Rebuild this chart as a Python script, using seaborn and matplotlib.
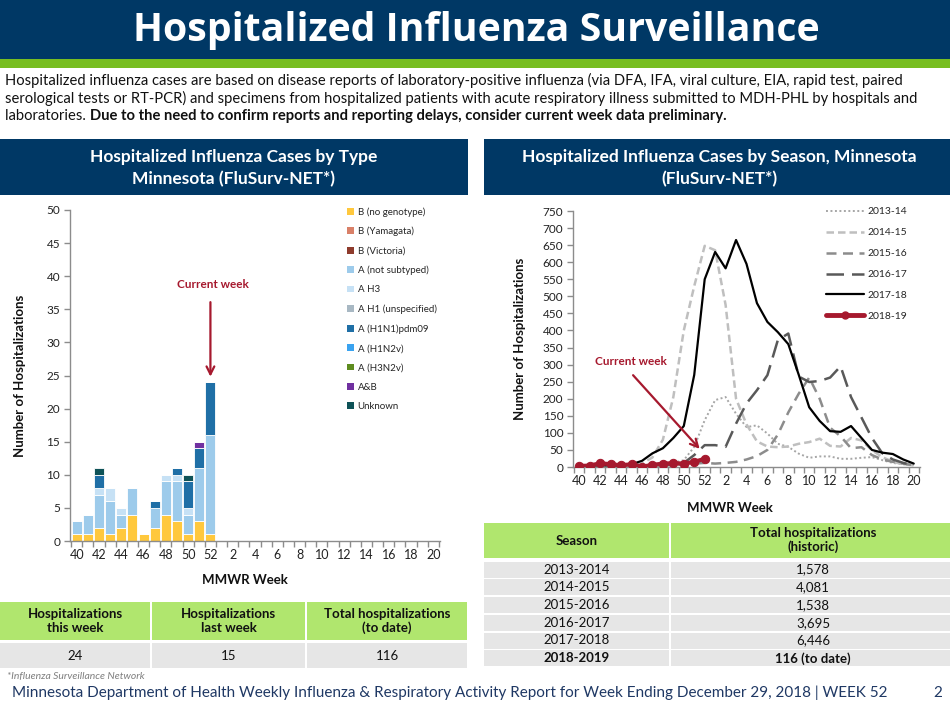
import numpy as np
import pandas as pd
import matplotlib
matplotlib.use("Agg")
import matplotlib.pyplot as plt
from matplotlib.patches import Rectangle, Patch
from matplotlib.lines import Line2D
import seaborn as sns

# ---------------- data ----------------
week_labels = [40, 41, 42, 43, 44, 45, 46, 47, 48, 49, 50, 51, 52,
               1, 2, 3, 4, 5, 6, 7, 8, 9, 10, 11, 12, 13, 14, 15, 16, 17, 18, 19, 20]
bar_weeks = [40, 41, 42, 43, 44, 45, 46, 47, 48, 49, 50, 51, 52]

type_names = ["B (no genotype)", "B (Yamagata)", "B (Victoria)", "A (not subtyped)", "A H3",
              "A H1 (unspecified)", "A (H1N1)pdm09", "A (H1N2v)", "A (H3N2v)", "A&B", "Unknown"]
b_no_genotype = [1, 1, 2, 1, 2, 4, 1, 2, 4, 3, 1, 3, 1]
b_yamagata = [0, 0, 0, 0, 0, 0, 0, 0, 0, 0, 0, 0, 0]
b_victoria = [0, 0, 0, 0, 0, 0, 0, 0, 0, 0, 0, 0, 0]
a_not_subtyped = [2, 3, 5, 5, 2, 4, 0, 3, 5, 6, 3, 8, 15]
a_h3 = [0, 0, 1, 2, 1, 0, 0, 0, 1, 1, 1, 0, 0]
a_h1_unspecified = [0, 0, 0, 0, 0, 0, 0, 0, 0, 0, 0, 0, 0]
a_h1n1pdm09 = [0, 0, 2, 0, 0, 0, 0, 1, 0, 1, 4, 3, 8]
a_h1n2v = [0, 0, 0, 0, 0, 0, 0, 0, 0, 0, 0, 0, 0]
a_h3n2v = [0, 0, 0, 0, 0, 0, 0, 0, 0, 0, 0, 0, 0]
a_and_b = [0, 0, 0, 0, 0, 0, 0, 0, 0, 0, 0, 1, 0]
unknown = [0, 0, 1, 0, 0, 0, 0, 0, 0, 0, 1, 0, 0]
type_values = [b_no_genotype, b_yamagata, b_victoria, a_not_subtyped, a_h3, a_h1_unspecified,
               a_h1n1pdm09, a_h1n2v, a_h3n2v, a_and_b, unknown]
type_colors = ["#FFC83D", "#D98068", "#8E3B2C", "#9DCBEB", "#C6E1F5", "#A8B8C3",
               "#1F6FA6", "#3AA3F0", "#5E8C1F", "#7030A0", "#0E5257"]

season_names = ["2013-14", "2014-15", "2015-16", "2016-17", "2017-18", "2018-19"]
s2013_14 = [5, 5, 5, 5, 5, 5, 5, 5, 8, 12, 20, 59, 137, 196, 205, 156, 117, 122, 98, 68, 59, 39,
            27, 31, 31, 24, 24, 27, 29, 20, 12, 8, 5]
s2014_15 = [5, 5, 5, 5, 5, 5, 10, 28, 80, 205, 400, 530, 648, 635, 475, 200, 125, 75, 60, 58, 60,
            68, 73, 83, 62, 60, 85, 78, 49, 29, 15, 8, 5]
s2015_16 = [5, 5, 5, 5, 5, 5, 5, 5, 5, 5, 8, 10, 12, 10, 12, 15, 22, 32, 50, 95, 160, 215, 262,
            200, 115, 90, 55, 58, 35, 22, 15, 10, 5]
s2016_17 = [5, 5, 5, 5, 5, 5, 5, 5, 5, 8, 12, 35, 64, 64, 59, 127, 186, 225, 269, 372, 391, 265,
            249, 252, 262, 295, 205, 145, 85, 40, 22, 12, 5]
s2017_18 = [5, 5, 5, 5, 5, 8, 18, 40, 55, 85, 120, 270, 550, 630, 582, 665, 595, 480, 425, 395,
            360, 270, 175, 135, 105, 103, 120, 85, 50, 42, 38, 22, 10]
s2018_19 = [3, 4, 11, 8, 5, 8, 1, 6, 10, 11, 10, 15, 24]

summary_headers = ["Hospitalizations\nthis week", "Hospitalizations\nlast week",
                   "Total hospitalizations\n(to date)"]
summary_values = ["24", "15", "116"]

hist_seasons = ["2013-2014", "2014-2015", "2015-2016", "2016-2017", "2017-2018", "2018-2019"]
hist_totals = ["1,578", "4,081", "1,538", "3,695", "6,446", "116 (to date)"]

tick_labels = [40, 42, 44, 46, 48, 50, 52, 2, 4, 6, 8, 10, 12, 14, 16, 18, 20]

# ---------------- setup ----------------
sns.set_theme(style="white")
plt.rcParams["font.family"] = ["Lato", "DejaVu Sans"]

W, H = 950, 708
fig = plt.figure(figsize=(W / 100, H / 100), dpi=100)
fig.patch.set_facecolor("white")

NAVY = "#003865"
GREEN = "#78BE21"
TGREEN = "#B0E66E"
TGRAY = "#E6E6E6"
RED = "#A6192E"


def fx(x):
    return x / W


def fy(y):
    return 1 - y / H


def rect(x0, y0, x1, y1, color):
    fig.add_artist(Rectangle((fx(x0), fy(y1)), (x1 - x0) / W, (y1 - y0) / H,
                             transform=fig.transFigure, facecolor=color, edgecolor="none", zorder=0))


def ftext(x, y, s, **kw):
    kw.setdefault("ha", "center")
    kw.setdefault("va", "center")
    fig.text(fx(x), fy(y), s, **kw)


def add_ax(l, t, r, b):
    return fig.add_axes([fx(l), fy(b), (r - l) / W, (b - t) / H])


# header
rect(0, 0, 950, 59, NAVY)
rect(0, 59, 950, 68, GREEN)
ftext(476, 30, "Hospitalized Influenza Surveillance", color="white", fontsize=28.3,
      fontweight="bold", family=["Open Sans", "DejaVu Sans"])

intro1 = ("Hospitalized influenza cases are based on disease reports of laboratory-positive influenza "
          "(via DFA, IFA, viral culture, EIA, rapid test, paired")
intro2 = ("serological tests or RT-PCR) and specimens from hospitalized patients with acute respiratory "
          "illness submitted to MDH-PHL by hospitals and")
FS_INTRO = 10.6
ftext(5, 80, intro1, ha="left", fontsize=FS_INTRO, color="#111111")
ftext(5, 98, intro2, ha="left", fontsize=FS_INTRO, color="#111111")
t3 = fig.text(fx(5), fy(116), "laboratories. ", ha="left", va="center", fontsize=FS_INTRO,
              color="#111111")
fig.canvas.draw()
bb = t3.get_window_extent()
fig.text(bb.x1 / W, fy(116), "Due to the need to confirm reports and reporting delays, consider "
         "current week data preliminary.", ha="left", va="center", fontsize=FS_INTRO,
         fontweight="bold", color="#111111")

# panel titles
FS_PT = 12.5
rect(0, 139, 468, 195, NAVY)
ftext(234, 157, "Hospitalized Influenza Cases by Type", color="white", fontsize=FS_PT,
      fontweight="bold")
ftext(234, 179, "Minnesota (FluSurv-NET*)", color="white", fontsize=FS_PT, fontweight="bold")
rect(484, 139, 950, 195, NAVY)
ftext(719, 157, "Hospitalized Influenza Cases by Season, Minnesota", color="white", fontsize=FS_PT,
      fontweight="bold")
ftext(719, 179, "(FluSurv-NET*)", color="white", fontsize=FS_PT, fontweight="bold")

# ---------------- left chart ----------------
pos_of = {w: i for i, w in enumerate(week_labels)}
rows = []
for name, vals in zip(type_names, type_values):
    for w, v in zip(bar_weeks, vals):
        rows.append({"pos": pos_of[w], "type": name, "count": v})
df_bar = pd.DataFrame(rows)

axL = add_ax(70, 210, 440, 541)
sns.histplot(data=df_bar, x="pos", weights="count", hue="type", hue_order=type_names[::-1],
             multiple="stack", discrete=True, shrink=0.9, palette=dict(zip(type_names, type_colors)),
             edgecolor="white", linewidth=0.6, alpha=1, legend=False, ax=axL)
axL.set_xlim(-0.6, len(week_labels) - 0.4)
axL.set_ylim(0, 50)
axL.set_yticks(range(0, 51, 5))
tick_pos = [pos_of[w] for w in tick_labels]
axL.set_xticks(tick_pos)
axL.set_xticklabels([str(t) for t in tick_labels])
axL.set_xticks(np.arange(-0.5, len(week_labels), 1), minor=True)

# ---------------- right chart ----------------
axR = add_ax(573, 211, 920, 467)
season_series = [s2013_14, s2014_15, s2015_16, s2016_17, s2017_18]
styles = [
    dict(color="#A6A6A6", lw=1.4, dashes=(1, 1.3)),
    dict(color="#BFBFBF", lw=1.8, dashes=(3, 1.6)),
    dict(color="#8C8C8C", lw=1.8, dashes=(4, 2.6)),
    dict(color="#595959", lw=1.8, dashes=(7, 3.2)),
    dict(color="black", lw=1.6, dashes=None),
]
handles = []
for name, vals, st in zip(season_names[:5], season_series, styles):
    d = pd.DataFrame({"pos": [pos_of[w] for w in week_labels], "val": vals})
    sns.lineplot(data=d, x="pos", y="val", color=st["color"], linewidth=st["lw"], ax=axR)
    ln = axR.lines[-1]
    if st["dashes"] is not None:
        ln.set_dashes(st["dashes"])
    h = Line2D([], [], color=st["color"], lw=st["lw"])
    if st["dashes"] is not None:
        h.set_dashes(st["dashes"])
    handles.append(h)
d19 = pd.DataFrame({"pos": [pos_of[w] for w in bar_weeks], "val": s2018_19})
sns.lineplot(data=d19, x="pos", y="val", color=RED, linewidth=3, marker="o", markersize=6,
             markeredgecolor=RED, ax=axR, zorder=5)
handles.append(Line2D([], [], color=RED, lw=3.5, marker="o", markersize=5))

axR.set_xlim(-0.6, len(week_labels) - 0.4)
axR.set_ylim(0, 750)
axR.set_yticks(range(0, 751, 50))
axR.set_xticks(tick_pos)
axR.set_xticklabels([str(t) for t in tick_labels])
axR.set_xticks(np.arange(-0.5, len(week_labels), 1), minor=True)

fig.legend(handles, season_names, loc="upper left", bbox_to_anchor=(fx(826), fy(207)),
           frameon=False, fontsize=7.5, handlelength=3.6, handletextpad=0.4, labelspacing=1.12,
           borderpad=0, borderaxespad=0)

lhandles = [Patch(facecolor=c, edgecolor="none") for c in type_colors]
fig.legend(lhandles, type_names, loc="upper left", bbox_to_anchor=(fx(347), fy(207)),
           frameon=False, fontsize=7, handlelength=0.7, handleheight=0.7, handletextpad=0.4,
           labelspacing=1.05, borderpad=0, borderaxespad=0)

for ax in [axL, axR]:
    ax.set_xlabel("MMWR Week", fontsize=9.5, fontweight="bold", color="#111111")
    ax.set_ylabel("Number of Hospitalizations", fontsize=9.5, fontweight="bold", color="#111111")
    for s in ["top", "right"]:
        ax.spines[s].set_visible(False)
    for s in ["left", "bottom"]:
        ax.spines[s].set_color("#8C8C8C")
        ax.spines[s].set_linewidth(1)
    ax.tick_params(axis="x", which="major", length=0, labelsize=9, colors="#222222", pad=6)
    ax.tick_params(axis="x", which="minor", length=4, color="#8C8C8C", width=1, bottom=True)
    ax.tick_params(axis="y", which="major", length=4, color="#8C8C8C", width=1, left=True,
                   labelsize=8.5, labelcolor="#222222", pad=3)
    ax.grid(False)
    ax.set_facecolor("none")

axL.yaxis.set_label_coords(-0.12, 0.5)
axL.xaxis.set_label_coords(0.473, -0.10)
axR.yaxis.set_label_coords(-0.135, 0.5)
axR.xaxis.set_label_coords(0.452, -0.137)

# annotations
axL.annotate("", xy=(pos_of[52], 24.4), xytext=(pos_of[52], 36.5),
             arrowprops=dict(arrowstyle="->", color=RED, lw=1.6, mutation_scale=14))
axL.text(pos_of[52] + 0.2, 38.7, "Current week", color=RED, fontsize=8.5, fontweight="bold",
         ha="center", va="center")
axR.annotate("", xy=(11.7, 47), xytext=(4.97, 275),
             arrowprops=dict(arrowstyle="->", color=RED, lw=1.6, mutation_scale=14))
axR.text(4.95, 308, "Current week", color=RED, fontsize=8.5, fontweight="bold",
         ha="center", va="center")

# ---------------- left table ----------------
cols = [(0, 150), (152, 305), (307, 467)]
for (x0, x1), hdr, val in zip(cols, summary_headers, summary_values):
    rect(x0, 602, x1, 640, TGREEN)
    rect(x0, 643, x1, 668, TGRAY)
    ftext((x0 + x1) / 2, 621, hdr, fontsize=9.5, fontweight="bold", color="#111111",
          linespacing=1.15)
    ftext((x0 + x1) / 2, 655.5, val, fontsize=9.5, color="#111111")
ftext(7, 676.5, "*Influenza Surveillance Network", ha="left", fontsize=7.5, style="italic",
      color="#7F7F7F")

# ---------------- right table ----------------
rect(484, 523, 669, 558, TGREEN)
rect(671, 523, 950, 558, TGREEN)
ftext(577, 541, "Season", fontsize=9.5, fontweight="bold", color="#111111")
ftext(813, 540, "Total hospitalizations\n(historic)", fontsize=9.5, fontweight="bold",
      color="#111111", linespacing=1.15)
for i, (s, t) in enumerate(zip(hist_seasons, hist_totals)):
    y0 = 561.5 + i * 17.75
    y1 = y0 + 16
    rect(484, y0, 669, y1, TGRAY)
    rect(671, y0, 950, y1, TGRAY)
    fw = "bold" if i == len(hist_seasons) - 1 else "normal"
    ftext(577, (y0 + y1) / 2, s, fontsize=9.5, color="#111111", fontweight=fw)
    ftext(813, (y0 + y1) / 2, t, fontsize=9.5, color="#111111", fontweight=fw)

# footer
ftext(12, 693, "Minnesota Department of Health Weekly Influenza & Respiratory Activity Report for "
      "Week Ending December 29, 2018 | WEEK 52", ha="left", fontsize=11, color="#1F3864")
ftext(938, 693, "2", fontsize=11, color="#1F3864")

fig.savefig("out.png", dpi=100, facecolor="white")
